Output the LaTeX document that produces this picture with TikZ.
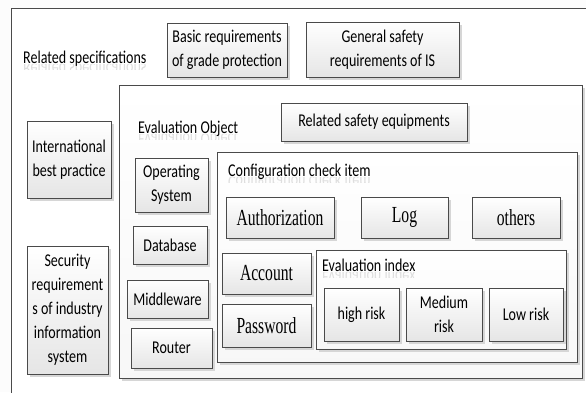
\documentclass[tikz,border=0pt]{standalone}
\usepackage{fontspec}
\usetikzlibrary{shadows,fadings}
\newfontfamily\sansc[FakeStretch=0.78]{Carlito}
\newfontfamily\serifc[FakeStretch=0.68]{Liberation Serif}
\definecolor{edge}{HTML}{4A4A4A}
\definecolor{shade}{HTML}{D6D6D6}
\definecolor{paper}{HTML}{FCFCFC}
\tikzset{
  base/.style={draw=edge, line width=0.9pt, rectangle, inner sep=0pt,
    drop shadow={shadow xshift=3pt, shadow yshift=-3pt, fill=shade, opacity=1},
    align=center, text=black},
  item/.style={base, top color=white, bottom color=black!10,
    font=\sansc\fontsize{18}{24}\selectfont},
  term/.style={base, top color=white, bottom color=black!10,
    font=\serifc\fontsize{23}{26}\selectfont},
  group/.style={base, top color=white, bottom color=black!3},
  caption/.style={anchor=base west, inner sep=0pt, text=black,
    font=\sansc\fontsize{18}{24}\selectfont},
  ghost/.style={anchor=base west, inner sep=0pt, text=black!13,
    font=\sansc\fontsize{18}{24}\selectfont},
}
% faint mirrored reflection under a free-standing caption
\newcommand\reflectcap[3]{%
  \begin{scope}
    \clip (#1-2,#2+1) rectangle (#1+260,#2+6);
    \node[ghost] at (#1,#2) {\scalebox{1}[-1]{#3}};
  \end{scope}}
\begin{document}
\begin{tikzpicture}[x=1pt,y=-1pt]
\useasboundingbox (0,0) rectangle (586,392);
\fill[paper] (0,0) rectangle (586,392);
% outer frame, running past the right and bottom edges
\begin{scope}
  \clip (0,0) rectangle (586,392);
  \draw[edge, line width=0.9pt, fill=white] (11,8) rectangle (600,405);
\end{scope}

% specifications row
\reflectcap{23}{63}{Related specifications}
\node[caption] (spec) at (23,63) {Related specifications};
\node[item, minimum width=120pt, minimum height=54pt] (basic) at (227,50)
  {Basic requirements\\of grade protection};
\node[item, minimum width=153pt, minimum height=55pt] (general) at (382.5,49.5)
  {General safety\\requirements of IS};

% left column
\node[item, minimum width=84pt, minimum height=77pt] (intl) at (69,159.5)
  {International\\best practice};
\node[item, minimum width=81pt, minimum height=128pt] (industry) at (67.5,310)
  {Security\\requirement\\s of industry\\information\\system};

% evaluation object container
\node[group, minimum width=463pt, minimum height=293pt] (object) at (350.5,231.5) {};
\reflectcap{138}{133}{Evaluation Object}
\node[caption] (objcap) at (138,133) {Evaluation Object};
\node[item, minimum width=186pt, minimum height=38pt] (equip) at (374,122)
  {Related safety equipments};

\node[item, minimum width=73pt, minimum height=54pt] (os) at (171.5,185)
  {Operating\\System};
\node[item, minimum width=74pt, minimum height=38pt] (db) at (170,245) {Database};
\node[item, minimum width=81pt, minimum height=38pt] (mw) at (167.5,299) {Middleware};
\node[item, minimum width=81pt, minimum height=40pt] (router) at (171.5,348) {Router};

% configuration check items
\node[group, minimum width=360pt, minimum height=210pt] (config) at (397,257) {};
\reflectcap{228}{176}{Configuration check item}
\node[caption] (configcap) at (228,176) {Configuration check item};
\node[term, minimum width=108pt, minimum height=41pt] (auth) at (280,217.5) {Authorization};
\node[term, minimum width=87pt, minimum height=41pt] (log) at (404.5,217.5) {Log};
\node[term, minimum width=88pt, minimum height=41pt] (others) at (516,217.5) {others};
\node[term, minimum width=89pt, minimum height=41pt] (account) at (266.5,273.5) {Account};
\node[term, minimum width=89pt, minimum height=43pt] (password) at (266.5,325.5) {Password};

% evaluation index
\node[group, minimum width=250pt, minimum height=99pt] (index) at (441,299.5) {};
\reflectcap{322}{271}{Evaluation index}
\node[caption] (indexcap) at (322,271) {Evaluation index};
\node[item, minimum width=75pt, minimum height=53pt] (high) at (361.5,314.5) {high risk};
\node[item, minimum width=76pt, minimum height=53pt] (medium) at (444,314.5) {Medium\\risk};
\node[item, minimum width=74pt, minimum height=53pt] (low) at (526,314.5) {Low risk};
\end{tikzpicture}
\end{document}
